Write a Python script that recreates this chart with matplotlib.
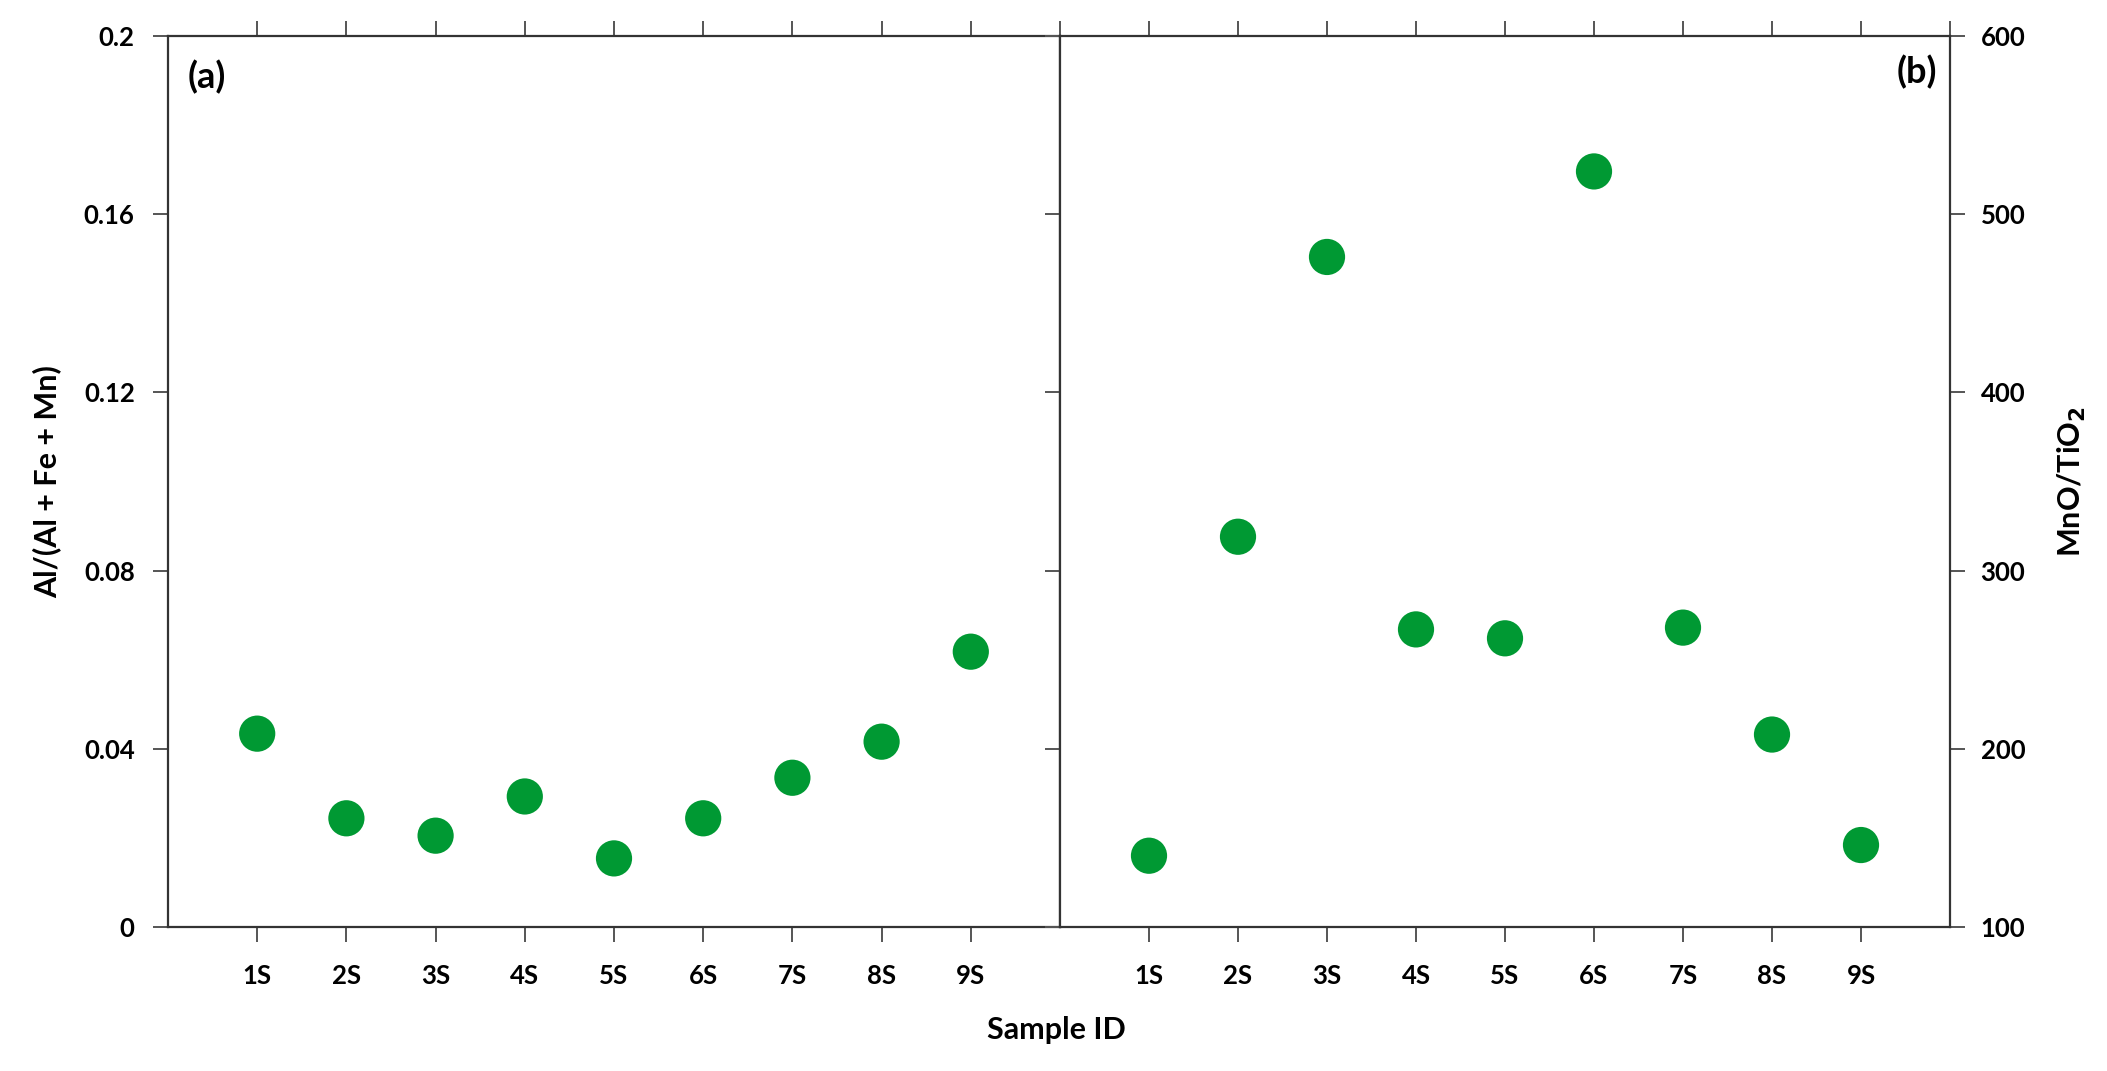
import matplotlib
matplotlib.use("Agg")
import matplotlib.pyplot as plt

plt.rcParams['font.family'] = ['Lato', 'DejaVu Sans']
plt.rcParams['font.weight'] = 'bold'

samples = ['1S', '2S', '3S', '4S', '5S', '6S', '7S', '8S', '9S']
al_ratio = [0.0434, 0.0244, 0.0205, 0.0293, 0.0154, 0.0244, 0.0335, 0.0416, 0.0618]
mno_tio2 = [140, 319, 476, 267, 262, 524, 268, 208, 146]

left_ticks = [0, 0.04, 0.08, 0.12, 0.16, 0.2]
left_ticklabels = ['0', '0.04', '0.08', '0.12', '0.16', '0.2']
right_ticks = [100, 200, 300, 400, 500, 600]

W, H = 2107, 1071
fig = plt.figure(figsize=(W / 100, H / 100), dpi=100)
ax_l, ax_r = 168, 1060
ax_rr = 1950
ax_t, ax_b = 36, 927
axA = fig.add_axes([ax_l / W, (H - ax_b) / H, (ax_r - ax_l) / W, (ax_b - ax_t) / H])
axB = fig.add_axes([ax_r / W, (H - ax_b) / H, (ax_rr - ax_r) / W, (ax_b - ax_t) / H])

green = '#009933'
spine_col = '#333333'
tick_col = '#555555'
xpos = list(range(1, len(samples) + 1))
tick_fs = 18.5

for ax in (axA, axB):
    ax.set_xlim(0, 10)
    for s in ax.spines.values():
        s.set_color(spine_col)
        s.set_linewidth(1.6)
    ax.set_xticks(xpos)
    ax.set_xticklabels(samples, fontsize=tick_fs, fontweight='bold')
    ax.tick_params(axis='x', direction='out', length=11, width=1.4, color=tick_col, pad=16)
    sec = ax.secondary_xaxis('top')
    sec.set_xticks(list(range(1, 11)))
    sec.set_xticklabels([])
    sec.tick_params(direction='out', length=11, width=1.4, color=tick_col)
    sec.spines['top'].set_visible(False)

# Panel (a)
axA.scatter(xpos, al_ratio, s=680, color=green, edgecolors='none', zorder=3, clip_on=False)
axA.set_ylim(0, 0.2)
axA.set_yticks(left_ticks)
axA.set_yticklabels(left_ticklabels, fontsize=tick_fs, fontweight='bold')
axA.tick_params(axis='y', left=True, right=True, labelright=False,
                direction='out', length=11, width=1.4, color=tick_col, pad=13)
axA.set_ylabel('Al/(Al + Fe + Mn)', fontsize=22, fontweight='bold', labelpad=16)
axA.text(0.022, 0.954, '(a)', transform=axA.transAxes, fontsize=26, fontweight='bold',
         ha='left', va='center')

# Panel (b)
axB.scatter(xpos, mno_tio2, s=680, color=green, edgecolors='none', zorder=3, clip_on=False)
axB.set_ylim(100, 600)
axB.yaxis.tick_right()
axB.yaxis.set_label_position('right')
axB.set_yticks(right_ticks)
axB.set_yticklabels([str(v) for v in right_ticks], fontsize=tick_fs, fontweight='bold')
axB.tick_params(axis='y', right=True, left=True, labelleft=False,
                direction='out', length=11, width=1.4, color=tick_col, pad=11)
axB.set_ylabel('MnO/TiO$_\\mathbf{2}$', fontsize=22, fontweight='bold', labelpad=22)
axB.text(0.986, 0.96, '(b)', transform=axB.transAxes, fontsize=26, fontweight='bold',
         ha='right', va='center')

fig.text(1056 / W, 1 - 1030 / H, 'Sample ID', fontsize=22, fontweight='bold',
         ha='center', va='center')

fig.savefig('out.png', dpi=100, facecolor='white')
